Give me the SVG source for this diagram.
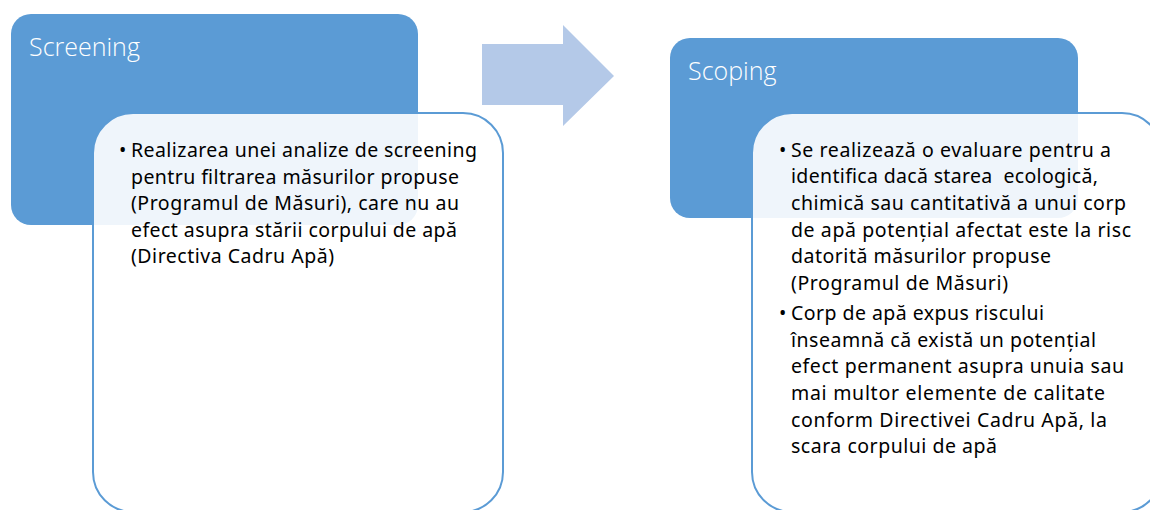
<svg xmlns="http://www.w3.org/2000/svg" width="1150" height="510" viewBox="0 0 1150 510">
<style>
.hdr{fill:#5B9BD5}
.card{fill:#FFFFFF;fill-opacity:0.9;stroke:#5B9BD5;stroke-width:2}
.title{font-family:"Open Sans","Noto Sans",sans-serif;font-weight:300;font-size:25px;fill:#FFFFFF}
.body{font-family:"Noto Sans","Open Sans",sans-serif;font-size:19.5px;fill:#000000}
.arrow{fill:#B4C9E8}
</style>
<rect width="1150" height="510" fill="#FFFFFF"/>
<g id="screening">
<rect class="hdr" x="11" y="14" width="407" height="211" rx="20"/>
<text class="title" x="29" y="56">Screening</text>
</g>
<g id="screening-detail">
<rect class="card" x="93" y="113" width="410" height="399" rx="40"/>
<text class="body" x="119" y="157">•</text>
<text class="body" x="131" y="157" textLength="346">Realizarea unei analize de screening</text>
<text class="body" x="131" y="184" textLength="328">pentru filtrarea măsurilor propuse</text>
<text class="body" x="131" y="210" textLength="328">(Programul de Măsuri), care nu au</text>
<text class="body" x="131" y="237" textLength="326">efect asupra stării corpului de apă</text>
<text class="body" x="131" y="263" textLength="203">(Directiva Cadru Apă)</text>
</g>
<g id="connectors">
<polygon class="arrow" points="482,44 563,44 563,25 614,76 563,126 563,105 482,105"/>
</g>
<g id="scoping">
<rect class="hdr" x="670" y="38" width="408" height="180" rx="20"/>
<text class="title" x="688" y="80">Scoping</text>
</g>
<g id="scoping-detail">
<rect class="card" x="752" y="113" width="410" height="399" rx="40"/>
<text class="body" x="779" y="157">•</text>
<text class="body" x="791" y="157" textLength="320">Se realizează o evaluare pentru a</text>
<text class="body" x="791" y="183" textLength="307" xml:space="preserve">identifica dacă starea  ecologică,</text>
<text class="body" x="791" y="210" textLength="335">chimică sau cantitativă a unui corp</text>
<text class="body" x="791" y="237" textLength="340">de apă potențial afectat este la risc</text>
<text class="body" x="791" y="263" textLength="260">datorită măsurilor propuse</text>
<text class="body" x="791" y="290" textLength="217">(Programul de Măsuri)</text>
<text class="body" x="779" y="320">•</text>
<text class="body" x="791" y="320" textLength="253">Corp de apă expus riscului</text>
<text class="body" x="791" y="347" textLength="305">înseamnă că există un potențial</text>
<text class="body" x="791" y="373" textLength="333">efect permanent asupra unuia sau</text>
<text class="body" x="791" y="400" textLength="314">mai multor elemente de calitate</text>
<text class="body" x="791" y="427" textLength="316">conform Directivei Cadru Apă, la</text>
<text class="body" x="791" y="453" textLength="206">scara corpului de apă</text>
</g>
</svg>
